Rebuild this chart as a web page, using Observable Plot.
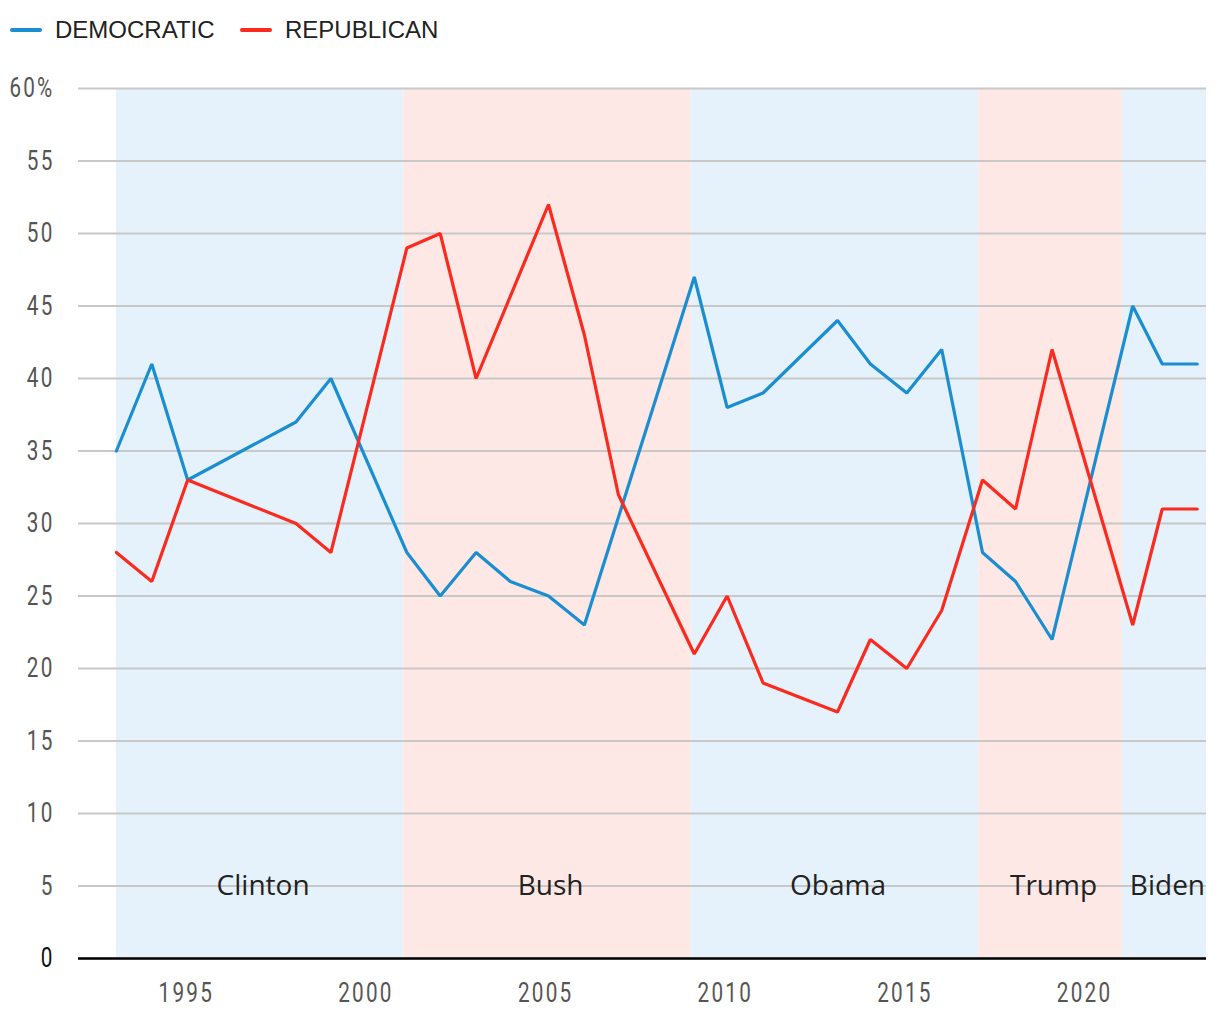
<!DOCTYPE html>
<html>
<head>
<meta charset="utf-8">
<script src="https://cdn.jsdelivr.net/npm/d3@7"></script>
<script src="https://cdn.jsdelivr.net/npm/@observablehq/plot@0.6"></script>
<style>
  body { margin: 0; background: #fff; font-family: "Liberation Sans", Arial, sans-serif; }
  #legend { position: relative; height: 60px; }
  .item { position: absolute; top: 15px; height: 30px; display: flex; align-items: center; font-size: 24px; color: #222; white-space: nowrap; }
  .sw { width: 32px; height: 4px; border-radius: 2px; margin-right: 13px; }
  #chart svg { display: block; }
</style>
</head>
<body>
<div id="legend"></div>
<div id="chart"></div>
<script>
// ---- data ----
const seriesNames = ["DEMOCRATIC", "REPUBLICAN"];
const seriesColors = ["#1b8ed1", "#fb2a1e"];

const demDates = ["1993-01-20","1994-01-15","1995-01-15","1998-01-20","1999-01-10","2001-02-20","2002-01-25","2003-01-25","2004-01-08","2005-01-30","2006-01-30","2009-02-20","2010-01-20","2011-01-20","2013-02-15","2014-01-15","2015-01-20","2016-01-10","2017-02-28","2018-01-30","2019-02-05","2021-05-05","2022-03-01","2023-02-20"];
const demValues = [35, 41, 33, 37, 40, 28, 25, 28, 26, 25, 23, 47, 38, 39, 44, 41, 39, 42, 28, 26, 22, 45, 41, 41];

const repDates = ["1993-01-20","1994-01-15","1995-01-15","1998-01-20","1999-01-10","2001-02-20","2002-01-25","2003-01-25","2005-01-30","2006-01-30","2007-01-10","2009-02-20","2010-01-20","2011-01-20","2013-02-15","2014-01-15","2015-01-20","2016-01-10","2017-02-28","2018-01-30","2019-02-05","2021-05-05","2022-03-01","2023-02-20"];
const repValues = [28, 26, 33, 30, 28, 49, 50, 40, 52, 43, 32, 21, 25, 19, 17, 22, 20, 24, 33, 31, 42, 23, 31, 31];

const presidents = ["Clinton", "Bush", "Obama", "Trump", "Biden"];
const termStarts = ["1993-01-20", "2001-01-20", "2009-01-20", "2017-01-20", "2021-01-20"];
const termEnds   = ["2001-01-20", "2009-01-20", "2017-01-20", "2021-01-20", "2023-05-25"];
const termParty  = ["D", "R", "D", "R", "D"];
const bandColors = { D: "#e5f2fb", R: "#fde8e6" };

const yTicks = [0, 5, 10, 15, 20, 25, 30, 35, 40, 45, 50, 55, 60];
const xDomain = ["1992-01-01", "2023-05-25"];

// ---- build tables ----
const parse = d3.utcParse("%Y-%m-%d");
const rows = [
  ...demDates.map((d, i) => ({ date: parse(d), value: demValues[i], party: seriesNames[0] })),
  ...repDates.map((d, i) => ({ date: parse(d), value: repValues[i], party: seriesNames[1] }))
];
const terms = presidents.map((p, i) => {
  const s = parse(termStarts[i]), e = parse(termEnds[i]);
  return { name: p, start: s, end: e, mid: new Date((+s + +e) / 2), party: termParty[i] };
});

// ---- legend ----
const legend = document.getElementById("legend");
const legendX = [10, 240];
seriesNames.forEach((n, i) => {
  const it = document.createElement("div");
  it.className = "item";
  it.style.left = legendX[i] + "px";
  it.innerHTML = `<span class="sw" style="background:${seriesColors[i]}"></span><span>${n}</span>`;
  legend.appendChild(it);
});

// ---- chart ----
const chart = Plot.plot({
  width: 1220,
  height: 960,
  marginTop: 28,
  marginBottom: 62,
  marginLeft: 78,
  marginRight: 14,
  style: { background: "#fff", fontFamily: "Roboto, sans-serif" },
  x: { type: "utc", domain: xDomain.map(parse) },
  y: { domain: [0, 60] },
  color: { domain: seriesNames, range: seriesColors },
  marks: [
    Plot.rect(terms, { x1: "start", x2: "end", y1: 0, y2: 60, fill: d => bandColors[d.party] }),
    Plot.gridY(yTicks, { stroke: "#c8c8c8", strokeOpacity: 1, strokeWidth: 1.8 }),
    Plot.text(terms, { x: "mid", y: 5, text: "name", fontSize: 28, dx: 3, fill: "#222", fontFamily: "'Open Sans', sans-serif" }),
    Plot.ruleY([0], { stroke: "#000", strokeWidth: 2.5 }),
    Plot.line(rows, { x: "date", y: "value", stroke: "party", strokeWidth: 3.2, strokeLinejoin: "miter", curve: "linear" }),
    Plot.axisY(yTicks, { tickSize: 0, tickPadding: 24, label: null, fontSize: 28, fill: d => d === 0 ? "#111" : "#555",
      tickFormat: d => d === 60 ? "60%" : String(d) }),
    Plot.axisX({ ticks: d3.utcYear.every(5), tickFormat: d3.utcFormat("%Y"), tickSize: 0, tickPadding: 24, label: null, fontSize: 28, fill: "#555" })
  ]
});
document.getElementById("chart").appendChild(chart);

// condense axis tick labels
const svg = d3.select(chart);
svg.selectAll('g[aria-label="y-axis tick label"] text, g[aria-label="x-axis tick label"] text')
  .each(function () {
    const t = d3.select(this);
    t.style("font-weight", 400).style("letter-spacing", "3px");
    const tr = t.attr("transform");
    if (tr) {
      t.attr("transform", tr + " scale(0.74,1)");
    } else {
      const x = +t.attr("x") || 0, y = +t.attr("y") || 0;
      t.attr("x", null).attr("y", null).attr("transform", `translate(${x},${y}) scale(0.74,1)`);
    }
  });
</script>
</body>
</html>
